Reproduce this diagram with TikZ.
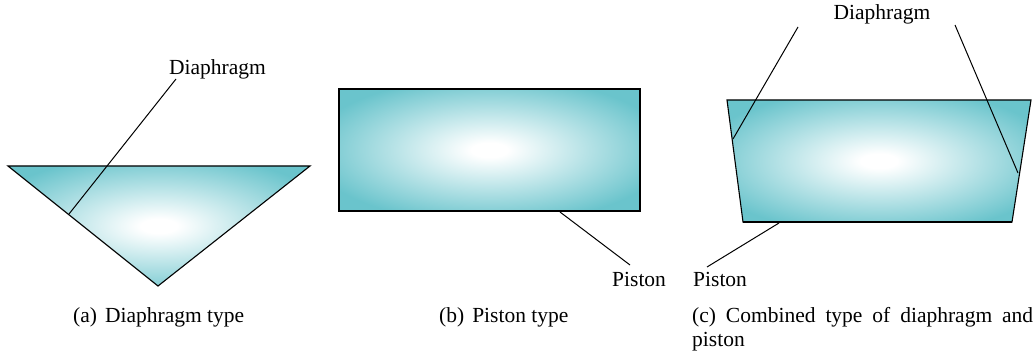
\documentclass[tikz,border=0pt]{standalone}
\usepackage{fontspec}
\setmainfont{Liberation Serif}
\definecolor{tealc}{RGB}{106,196,204}
\pgfdeclareradialshading{glow}{\pgfpoint{0bp}{0bp}}{color(0bp)=(white); color(3bp)=(white); color(30bp)=(tealc); color(50bp)=(tealc)}
\tikzset{
  body/.style={draw=black, line width=1.1pt, shading=glow, line join=miter},
  piston/.style={draw=black, line width=2.6pt},
  leader/.style={draw=black, line width=1pt},
  lbl/.style={inner sep=0pt, anchor=base west, font=\fontsize{21.5}{25}\selectfont},
}
\begin{document}
\begin{tikzpicture}[x=1pt,y=-1pt]
\useasboundingbox (0,0) rectangle (1036,358);
% (a) diaphragm type
\draw[body] (8,166) -- (310,166) -- (158,286) -- cycle;
\coordinate (aTip) at (69,214);
\coordinate (aEnd) at (176,79);
\node[lbl] (aLab) at (169,75) {Diaphragm};
\draw[leader] (aTip) -- (aEnd);
\node[lbl] (aCap) at (73,322) {(a)\hspace{8pt}Diaphragm type};
% (b) piston type
\draw[body] (339,89) rectangle (640,211);
\coordinate (bL) at (339,211);
\coordinate (bR) at (640,211);
\draw[piston] (bL) -- (bR);
\coordinate (bTip) at (560,212);
\coordinate (bEnd) at (630,265);
\node[lbl] (bLab) at (612,286) {Piston};
\draw[leader] (bTip) -- (bEnd);
\node[lbl] (bCap) at (439,322) {(b)\hspace{8pt}Piston type};
% (c) combined type
\draw[body] (727,100) -- (1031,100) -- (1012,222) -- (743,222) -- cycle;
\coordinate (cL) at (743,222);
\coordinate (cR) at (1012,222);
\draw[piston] (cL) -- (cR);
\node[lbl, anchor=base] (cLabD) at (882,20) {Diaphragm};
\coordinate (cTipL) at (733,139);
\coordinate (cEndL) at (798,27);
\coordinate (cTipR) at (1018,173);
\coordinate (cEndR) at (955,25);
\draw[leader] (cTipL) -- (cEndL);
\draw[leader] (cTipR) -- (cEndR);
\coordinate (cTipP) at (779,223);
\coordinate (cEndP) at (707,267);
\node[lbl] (cLabP) at (693,286) {Piston};
\draw[leader] (cTipP) -- (cEndP);
\node[lbl] (cCap1) at (692,322) {\makebox[341pt][s]{(c) Combined type of diaphragm and}};
\node[lbl] (cCap2) at (692,346) {piston};
\end{tikzpicture}
\end{document}
